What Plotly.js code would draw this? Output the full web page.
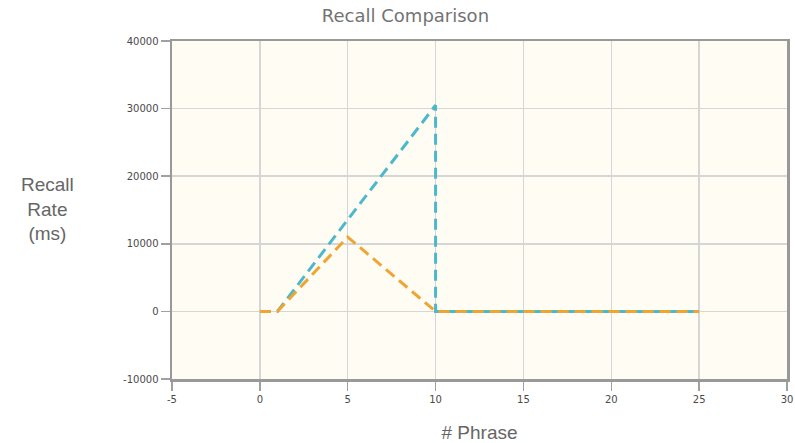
<!DOCTYPE html>
<html><head><meta charset="utf-8">
<script src="https://cdn.plot.ly/plotly-3.0.1.min.js"></script>
<style>html,body{margin:0;padding:0;background:#fff;}#chart{width:795px;height:443px;}</style>
</head><body><div id="chart"></div>
<script>
// Data
const tealX = [0, 1, 10, 10, 25];
const tealY = [0, 0, 30500, 0, 0];
const orangeX = [0, 1, 5, 10, 25];
const orangeY = [0, 0, 11000, 0, 0];
const xTicks = [-5, 0, 5, 10, 15, 20, 25, 30];
const yTicks = [-10000, 0, 10000, 20000, 30000, 40000];

const traces = [
  {x: tealX, y: tealY, mode: 'lines', name: 'Series A',
   line: {color: '#4db8cc', width: 3, dash: '11px,6px'}},
  {x: orangeX, y: orangeY, mode: 'lines', name: 'Series B',
   line: {color: '#eea534', width: 3, dash: '11px,6px'}}
];

const axisCommon = {
  showgrid: true, gridcolor: '#d6d6d6', gridwidth: 1.5,
  zeroline: false, showline: true, linecolor: '#999999', linewidth: 2.5, mirror: true,
  ticks: 'outside', ticklen: 9, tickcolor: '#a0a0a0', tickwidth: 1.5,
  tickfont: {family: 'DejaVu Sans', size: 10, color: '#4a4a4a'}
};

const layout = {
  width: 795, height: 443,
  margin: {l: 172, r: 8, t: 41, b: 64},
  paper_bgcolor: '#ffffff', plot_bgcolor: '#fffcf4',
  showlegend: false,
  title: {text: 'Recall Comparison', x: 0.51, xanchor: 'center', yref: 'container', y: 0.978, yanchor: 'top',
          font: {family: 'DejaVu Sans', size: 18, color: '#737373'}},
  xaxis: Object.assign({}, axisCommon, {range: [-5, 30], tickvals: xTicks, ticktext: xTicks.map(String),
    title: {text: '# Phrase', standoff: 22, font: {family: 'Liberation Sans', size: 19, color: '#666'}}}),
  yaxis: Object.assign({}, axisCommon, {range: [-10000, 40000], tickvals: yTicks, ticktext: yTicks.map(String)}),
  annotations: [{
    text: 'Recall<br>Rate<br>(ms)', xref: 'paper', yref: 'paper', x: -0.203, y: 0.503,
    xanchor: 'center', yanchor: 'middle', showarrow: false, align: 'center',
    font: {family: 'Liberation Sans', size: 19, color: '#666'}
  }]
};

Plotly.newPlot('chart', traces, layout, {displayModeBar: false, staticPlot: true});
</script></body></html>
